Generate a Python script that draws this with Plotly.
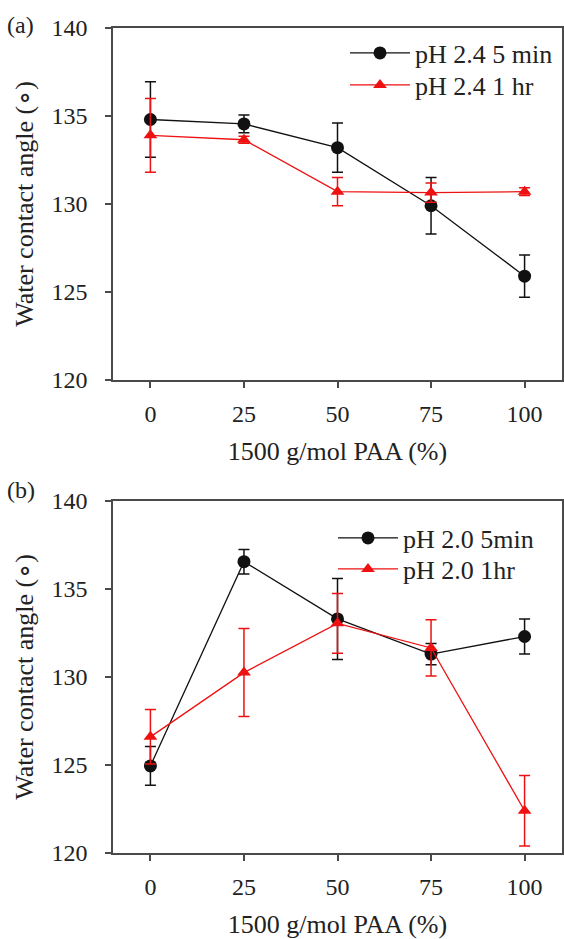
import plotly.graph_objects as go

# ---- data ----
pct = [0, 25, 50, 75, 100]

a_5min = [134.8, 134.55, 133.2, 129.9, 125.9]
a_5min_err = [2.15, 0.5, 1.4, 1.6, 1.2]
a_1hr = [133.9, 133.65, 130.7, 130.65, 130.7]
a_1hr_err = [2.1, 0.2, 0.8, 0.55, 0.22]

b_5min = [124.95, 136.55, 133.3, 131.3, 132.3]
b_5min_err = [1.1, 0.7, 2.3, 0.6, 1.0]
b_1hr = [126.6, 130.25, 133.05, 131.65, 122.4]
b_1hr_err = [1.55, 2.5, 1.7, 1.6, 2.0]

y_ticks = [120, 125, 130, 135, 140]
x_ticks = [0, 25, 50, 75, 100]

BLACK = "#111111"
RED = "#ee1111"
AX = "#4a4a4a"
FONT = "Liberation Serif"

fig = go.Figure()


def add(x, y, err, name, color, symbol, xa, ya, legend):
    fig.add_trace(go.Scatter(
        x=x, y=y, name=name, mode="lines+markers",
        line=dict(color=color, width=1.3),
        marker=dict(color=color, symbol=symbol, size=13 if symbol == "circle" else 12,
                    line=dict(width=0)),
        error_y=dict(type="data", array=err, visible=True, color=color,
                     thickness=1.5, width=5.5),
        xaxis=xa, yaxis=ya, legend=legend, showlegend=True,
    ))


add(pct, a_5min, a_5min_err, "pH 2.4 5 min", BLACK, "circle", "x", "y", "legend")
add(pct, a_1hr, a_1hr_err, "pH 2.4 1 hr", RED, "triangle-up", "x", "y", "legend2")
add(pct, b_5min, b_5min_err, "pH 2.0 5min", BLACK, "circle", "x2", "y2", "legend3")
add(pct, b_1hr, b_1hr_err, "pH 2.0 1hr", RED, "triangle-up", "x2", "y2", "legend4")

xdom = [113 / 564, 562 / 564]
ya_dom = [1 - 380 / 939, 1 - 28 / 939]
yb_dom = [1 - 853 / 939, 1 - 501 / 939]

axis_common = dict(
    showline=True, mirror=True, linecolor=AX, linewidth=1.5,
    ticks="outside", ticklen=6, tickwidth=1.5, tickcolor=AX,
    showgrid=False, zeroline=False,
    tickfont=dict(family=FONT, size=24, color="#222"),
)
xcommon = dict(axis_common, range=[-10, 110], tickvals=x_ticks,
               ticklabelstandoff=5,
               title=dict(text="1500 g/mol PAA (%)",
                          font=dict(family=FONT, size=26, color="#222"),
                          standoff=16))
ycommon = dict(axis_common, range=[120, 140], tickvals=y_ticks,
               ticklabelstandoff=13,
               title=dict(text="Water contact angle (∘)",
                          font=dict(family=FONT, size=26, color="#222"),
                          standoff=10))

legend_common = dict(
    xanchor="left", yanchor="middle", bgcolor="rgba(0,0,0,0)",
    font=dict(family=FONT, size=26, color="#222"),
    itemwidth=60, tracegroupgap=0, visible=True,
)

fig.update_layout(
    width=564, height=939,
    showlegend=True,
    margin=dict(l=0, r=0, t=0, b=0, autoexpand=False),
    paper_bgcolor="white", plot_bgcolor="white",
    font=dict(family=FONT, color="#222"),
    xaxis=dict(xcommon, domain=xdom, anchor="y"),
    yaxis=dict(ycommon, domain=ya_dom, anchor="x"),
    xaxis2=dict(xcommon, domain=xdom, anchor="y2"),
    yaxis2=dict(ycommon, domain=yb_dom, anchor="x2"),
    legend=dict(legend_common, x=345 / 564, y=1 - 53 / 939),
    legend2=dict(legend_common, x=345 / 564, y=1 - 85 / 939),
    legend3=dict(legend_common, x=333 / 564, y=1 - 538 / 939),
    legend4=dict(legend_common, x=333 / 564, y=1 - 569 / 939),
    annotations=[
        dict(text="(a)", x=20 / 564, y=1 - 25 / 939, xref="paper", yref="paper",
             xanchor="center", yanchor="middle",
             showarrow=False, font=dict(family=FONT, size=24, color="#222")),
        dict(text="(b)", x=21 / 564, y=1 - 490 / 939, xref="paper", yref="paper",
             xanchor="center", yanchor="middle",
             showarrow=False, font=dict(family=FONT, size=24, color="#222")),
    ],
)

fig.write_html(
    "out.html",
    config={"displayModeBar": False},
    post_script="document.body.style.margin='0';document.body.style.overflow='hidden';",
)
